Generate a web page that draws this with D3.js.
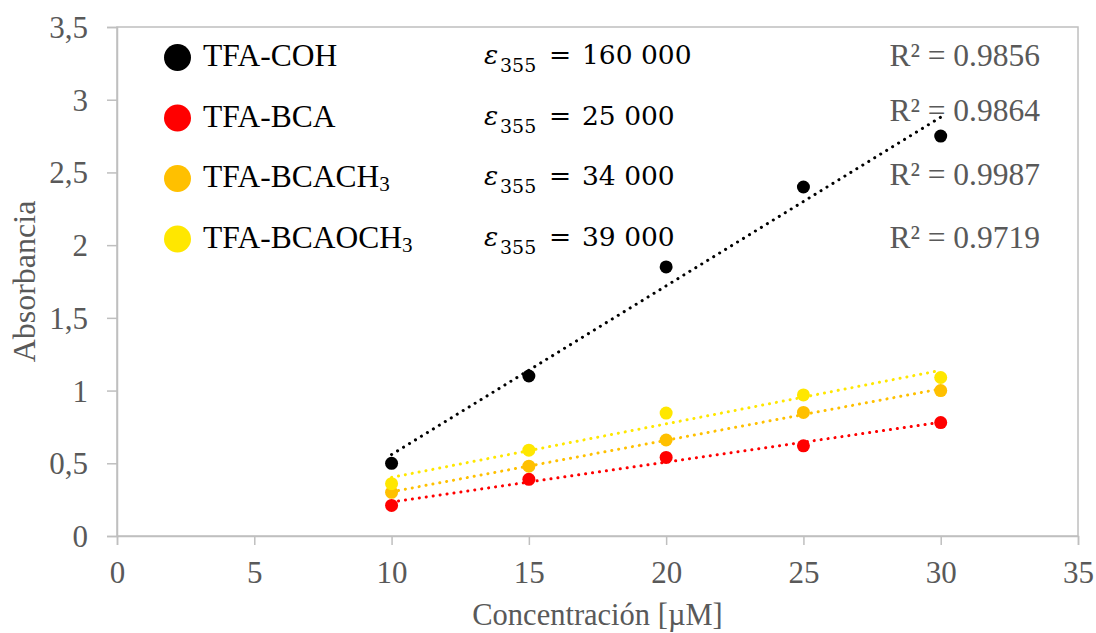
<!DOCTYPE html>
<html>
<head>
<meta charset="utf-8">
<script src="https://cdn.jsdelivr.net/npm/d3@7"></script>
<style>
  body { margin: 0; background: #fff; }
</style>
</head>
<body>
<div id="chart"></div>
<script>
// concentrations (µM)
var conc = [10, 15, 20, 25, 30];

// series names and absorbance values
var names = ["TFA-COH", "TFA-BCA", "TFA-BCACH3", "TFA-BCAOCH3"];
var cohVals = [0.5, 1.1, 1.85, 2.4, 2.75];
var bcaVals = [0.21, 0.39, 0.54, 0.62, 0.78];
var bcach3Vals = [0.3, 0.48, 0.66, 0.85, 1.0];
var bcaoch3Vals = [0.36, 0.59, 0.845, 0.97, 1.09];
var epsilons = ["160 000", "25 000", "34 000", "39 000"];
var r2Labels = ["R² = 0.9856", "R² = 0.9864", "R² = 0.9987", "R² = 0.9719"];
var colors = ["#000000", "#ff0000", "#ffc000", "#ffe700"];

var xTicks = [0, 5, 10, 15, 20, 25, 30, 35];
var yTicks = [0, 0.5, 1, 1.5, 2, 2.5, 3, 3.5];
var yTickLabels = ["0", "0,5", "1", "1,5", "2", "2,5", "3", "3,5"];

var series = [cohVals, bcaVals, bcach3Vals, bcaoch3Vals];

var width = 1096, height = 633;
var margin = {left: 117, right: 18, top: 27, bottom: 97};
var serif = "Liberation Serif";

var svg = d3.select("#chart").append("svg")
    .attr("width", width)
    .attr("height", height);

var x = d3.scaleLinear().domain([0, 35]).range([margin.left, width - margin.right]);
var y = d3.scaleLinear().domain([0, 3.5]).range([height - margin.bottom, margin.top]);

var axisColor = "#bfbfbf", textColor = "#595959";

// plot border
svg.append("rect")
  .attr("x", x(0)).attr("y", y(3.5))
  .attr("width", x(35) - x(0)).attr("height", y(0) - y(3.5))
  .attr("fill", "none").attr("stroke", axisColor).attr("stroke-width", 1.5);

// x axis
var xAxis = svg.append("g")
  .attr("transform", "translate(0," + y(0) + ")")
  .call(d3.axisBottom(x).tickValues(xTicks).tickSize(9).tickPadding(16).tickFormat(d3.format("d")));
// y axis
var yAxis = svg.append("g")
  .attr("transform", "translate(" + x(0) + ",0)")
  .call(d3.axisLeft(y).tickValues(yTicks).tickSize(10).tickPadding(19)
        .tickFormat(function(d, i) { return yTickLabels[i]; }));

[xAxis, yAxis].forEach(function(a) {
  a.attr("font-family", null);
  a.select(".domain").attr("stroke", axisColor).attr("stroke-width", 1.5);
  a.selectAll(".tick line").attr("stroke", axisColor).attr("stroke-width", 1.5);
  a.selectAll(".tick text")
    .attr("fill", textColor)
    .style("font-family", serif)
    .style("font-size", "31px");
});
xAxis.selectAll(".tick text").attr("dy", "0.71em");
yAxis.selectAll(".tick text").attr("dy", "0.34em");

// axis titles
svg.append("text")
  .attr("x", (x(0) + x(35)) / 2)
  .attr("y", 625)
  .attr("text-anchor", "middle")
  .attr("fill", textColor)
  .style("font-family", serif)
  .style("font-size", "30.5px")
  .text("Concentración [µM]");

svg.append("text")
  .attr("transform", "translate(35," + (y(0) + y(3.5)) / 2 + ") rotate(-90)")
  .attr("text-anchor", "middle")
  .attr("fill", textColor)
  .style("font-family", serif)
  .style("font-size", "32px")
  .text("Absorbancia");

// linear fit for each series
function fit(xs, ys) {
  var mx = d3.mean(xs), my = d3.mean(ys);
  var sxy = d3.sum(xs, function(v, i) { return (v - mx) * (ys[i] - my); });
  var sxx = d3.sum(xs, function(v) { return (v - mx) * (v - mx); });
  var b = sxy / sxx;
  return {b: b, a: my - b * mx};
}

var plot = svg.append("g");

series.forEach(function(vals, s) {
  // markers
  plot.selectAll(".m" + s)
    .data(vals)
    .enter().append("circle")
      .attr("class", "m" + s)
      .attr("cx", function(d, i) { return x(conc[i]); })
      .attr("cy", function(d) { return y(d); })
      .attr("r", 6.5)
      .attr("fill", colors[s]);
});

series.forEach(function(vals, s) {
  // dotted trendline
  var f = fit(conc, vals);
  var x0 = d3.min(conc), x1 = d3.max(conc);
  plot.append("line")
    .attr("x1", x(x0)).attr("y1", y(f.a + f.b * x0))
    .attr("x2", x(x1)).attr("y2", y(f.a + f.b * x1))
    .attr("stroke", colors[s])
    .attr("stroke-width", 3)
    .attr("stroke-linecap", "round")
    .attr("stroke-dasharray", "0.1 6.9");
});

// legend
var legY = [57.5, 118, 178.5, 239];
var leg = svg.append("g");
names.forEach(function(n, i) {
  leg.append("circle")
    .attr("cx", 177.5).attr("cy", legY[i]).attr("r", 13.5)
    .attr("fill", colors[i]);
  var t = leg.append("text")
    .attr("x", 203).attr("y", legY[i] + 8.5)
    .attr("fill", "#000")
    .style("font-family", serif)
    .style("font-size", "31.5px");
  if (n.slice(-1) === "3") {
    t.append("tspan").text(n.slice(0, -1));
    t.append("tspan").style("font-size", "21px").attr("dy", 4).text("3");
  } else {
    t.text(n);
  }

  // epsilon equation
  var e = leg.append("text")
    .attr("y", legY[i] + 6.5)
    .attr("fill", "#000")
    .style("font-family", "DejaVu Serif")
    .style("font-size", "26.5px");
  e.append("tspan").attr("x", 484).style("font-style", "italic").text("ε");
  e.append("tspan").attr("x", 500).style("font-size", "19px").attr("dy", 8).text("355");
  e.append("tspan").attr("x", 549).attr("dy", -8).text("=");
  e.append("tspan").attr("x", 582).text(epsilons[i]);
});

// R² labels
var r2Y = [66, 121, 185, 248];
r2Labels.forEach(function(l, i) {
  svg.append("text")
    .attr("x", 1040).attr("y", r2Y[i])
    .attr("text-anchor", "end")
    .attr("fill", textColor)
    .style("font-family", serif)
    .style("font-size", "31.5px")
    .text(l);
});
</script>
</body>
</html>
